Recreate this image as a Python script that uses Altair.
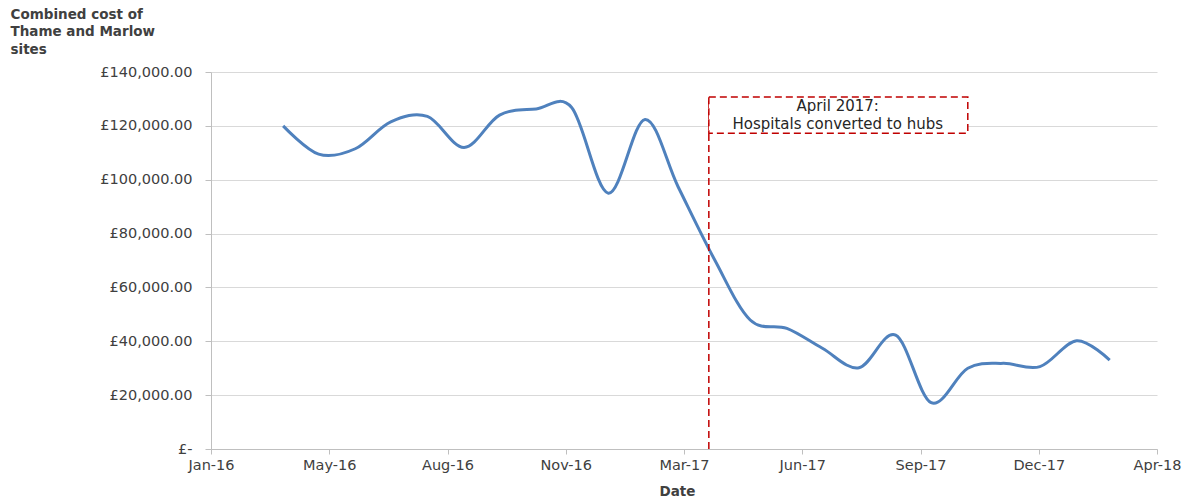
import altair as alt
import pandas as pd

# Monthly data (first of month)
months = [
    "2016-04-01", "2016-05-01", "2016-06-01", "2016-07-01", "2016-08-01", "2016-09-01",
    "2016-10-01", "2016-11-01", "2016-12-01", "2017-01-01", "2017-02-01", "2017-03-01",
    "2017-04-01", "2017-05-01", "2017-06-01", "2017-07-01", "2017-08-01", "2017-09-01",
    "2017-10-01", "2017-11-01", "2017-12-01", "2018-01-01", "2018-02-01", "2018-03-01",
]
costs = [
    120000, 109500, 111500, 121500, 123500, 112000,
    124000, 126300, 126800, 95000, 122400, 97400,
    70200, 47900, 44800, 37400, 30200, 42300,
    17200, 30000, 31800, 30600, 40200, 33000,
]

# Axis ticks (Excel-style date axis, every 100 days)
x_ticks = ["2016-01-31", "2016-05-10", "2016-08-18", "2016-11-26", "2017-03-06",
           "2017-06-14", "2017-09-22", "2017-12-31", "2018-04-10"]
y_ticks = [0, 20000, 40000, 60000, 80000, 100000, 120000, 140000]

# Annotation
event_date = "2017-03-27"
box_end = "2017-11-01"
box_top = 130700
box_bottom = 117300
note_center = "2017-07-14"
note_lines = ["April 2017:", "Hospitals converted to hubs"]
note_values = [127200, 120800]

def dt(s):
    y, m, d = (int(p) for p in s.split("-"))
    return alt.DateTime(year=y, month=m, date=d, utc=True)

df = pd.DataFrame({"date": months, "cost": costs})

xscale = alt.Scale(type="utc", domain=[dt(x_ticks[0]), dt(x_ticks[-1])])
yscale = alt.Scale(domain=[0, 140000], nice=False)

FONT = "DejaVu Sans"
TXT = "#404040"

x_axis = alt.Axis(
    values=[dt(t) for t in x_ticks], format="%b-%y", grid=False,
    title="Date", titleX=466, titleY=35, titleBaseline="top", titleAlign="center",
    titleFontWeight="bold", titleFontSize=13.5, titleColor=TXT,
    labelFontSize=14.5, labelColor=TXT, labelPadding=4, tickSize=5,
    domainColor="#bfbfbf", tickColor="#bfbfbf", labelFont=FONT, titleFont=FONT,
    labelFlush=False,
)
y_axis = alt.Axis(
    values=y_ticks,
    labelExpr="datum.value == 0 ? '£-' : '£' + format(datum.value, ',.2f')",
    title=["Combined cost of", "Thame and Marlow", "sites"],
    titleAngle=0, titleAlign="left", titleBaseline="top", titleX=-201, titleY=-65,
    titleFontWeight="bold", titleFontSize=13.5, titleColor=TXT, titleLineHeight=17.5,
    labelFontSize=14.5, labelColor=TXT, labelPadding=13, tickSize=6,
    grid=True, gridColor="#d9d9d9", domainColor="#bfbfbf", tickColor="#bfbfbf",
    labelFont=FONT, titleFont=FONT,
)

line = alt.Chart(df).mark_line(
    interpolate="cardinal", color="#4f81bd", strokeWidth=3
).encode(
    x=alt.X("date:T", scale=xscale, axis=x_axis),
    y=alt.Y("cost:Q", scale=yscale, axis=y_axis),
)

rule_df = pd.DataFrame({"date": [event_date], "y0": [0], "y1": [box_top]})
rule = alt.Chart(rule_df).mark_rule(
    color="#c00000", strokeWidth=1.5, strokeDash=[7, 4]
).encode(
    x=alt.X("date:T", scale=xscale),
    y=alt.Y("y0:Q", scale=yscale),
    y2="y1:Q",
)

box_df = pd.DataFrame({"x0": [event_date], "x1": [box_end], "y0": [box_bottom], "y1": [box_top]})
box = alt.Chart(box_df).mark_rect(
    fill="white", stroke="#c00000", strokeWidth=1.5, strokeDash=[7, 4]
).encode(
    x=alt.X("x0:T", scale=xscale),
    x2="x1:T",
    y=alt.Y("y0:Q", scale=yscale),
    y2="y1:Q",
)

note_df = pd.DataFrame({"date": [note_center] * 2, "v": note_values, "t": note_lines})
note = alt.Chart(note_df).mark_text(
    font=FONT, fontSize=15, color="#262626", align="center", baseline="middle"
).encode(
    x=alt.X("date:T", scale=xscale),
    y=alt.Y("v:Q", scale=yscale),
    text="t:N",
)

chart = alt.layer(line, rule, box, note).properties(
    width=946, height=377,
    autosize=alt.AutoSizeParams(type="none"),
    padding={"left": 211, "top": 72, "right": 25, "bottom": 49},
    background="white",
).configure_view(stroke=None)

chart.save("out.html", embed_options={"renderer": "svg", "actions": False})
